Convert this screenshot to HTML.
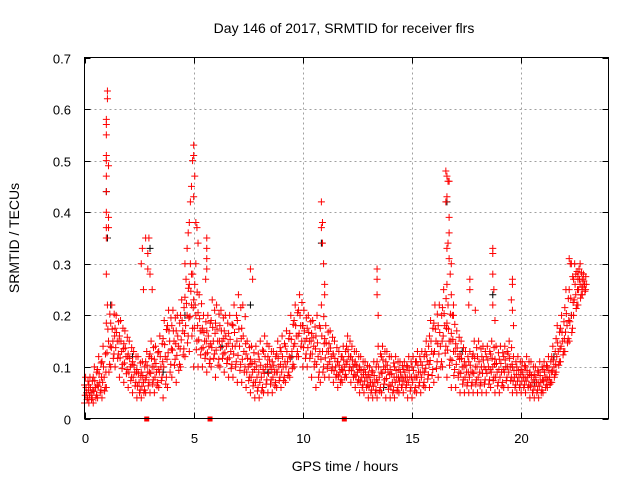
<!DOCTYPE html>
<html><head><meta charset="utf-8"><style>
body{margin:0;background:#fff}
svg{display:block;font-family:"Liberation Sans",sans-serif}
</style></head><body>
<svg id="chart" width="640" height="480" viewBox="0 0 640 480">
<rect width="640" height="480" fill="#fff"/>
<g id="grid"></g>
<g id="points"></g>
<rect x="84.5" y="57.5" width="524" height="361" fill="none" stroke="#000" stroke-width="1"/>
<g id="ticks"></g>
<text x="344" y="33" font-size="14" text-anchor="middle">Day 146 of 2017, SRMTID for receiver flrs</text>
<text x="345" y="471" font-size="14" text-anchor="middle">GPS time / hours</text>
<text transform="translate(19,238) rotate(-90)" font-size="14" text-anchor="middle">SRMTID / TECUs</text>
</svg>
<script>
const xTicks=[0,5,10,15,20];
const yTicks=[0,0.1,0.2,0.3,0.4,0.5,0.6,0.7];
const yTickLabels=["0","0.1","0.2","0.3","0.4","0.5","0.6","0.7"];
const t0=0, dt=0.2;
const lo=[.03,.03,.03,.04,.04,.06,.1,.1,.08,.07,.06,.05,.04,.04,.05,.05,.05,.06,.04,.06,.08,.07,.1,.12,.13,.1,.1,.1,.09,.1,.08,.1,.09,.08,.08,.07,.07,.06,.05,.04,.04,.05,.05,.05,.06,.06,.07,.08,.1,.12,.1,.1,.08,.06,.07,.08,.08,.07,.06,.07,.08,.07,.06,.05,.05,.04,.04,.04,.05,.04,.04,.04,.05,.05,.04,.04,.05,.05,.06,.06,.07,.08,.1,.08,.06,.06,.05,.05,.05,.05,.05,.05,.05,.06,.05,.05,.06,.06,.05,.05,.05,.05,.04,.04,.04,.05,.06,.07,.09,.11,.13,.15,.2,.22,.24];
const mid=[.05,.05,.06,.07,.08,.15,.15,.15,.13,.12,.1,.09,.07,.07,.09,.1,.09,.1,.12,.15,.15,.14,.17,.2,.22,.2,.17,.15,.14,.15,.15,.15,.14,.13,.14,.14,.13,.1,.09,.08,.08,.1,.1,.09,.1,.1,.11,.13,.16,.18,.15,.15,.14,.12,.13,.13,.12,.1,.09,.1,.12,.1,.09,.08,.08,.07,.07,.08,.1,.09,.07,.08,.08,.08,.08,.08,.09,.09,.11,.13,.15,.14,.18,.15,.13,.12,.1,.09,.09,.1,.09,.1,.1,.1,.09,.09,.1,.1,.08,.08,.08,.08,.07,.07,.07,.08,.08,.1,.13,.15,.18,.2,.24,.26,.26];
const hi=[.08,.08,.1,.12,.14,.22,.22,.2,.19,.17,.15,.13,.12,.11,.13,.15,.14,.16,.19,.21,.21,.2,.23,.27,.3,.26,.24,.2,.2,.23,.22,.21,.2,.2,.22,.24,.22,.15,.14,.14,.15,.16,.14,.13,.15,.16,.17,.2,.22,.24,.21,.2,.19,.2,.22,.18,.17,.15,.13,.14,.16,.14,.13,.12,.11,.1,.11,.14,.14,.13,.12,.12,.11,.11,.12,.12,.13,.13,.15,.19,.22,.22,.25,.22,.2,.17,.15,.13,.13,.15,.15,.14,.14,.15,.14,.14,.14,.15,.12,.12,.11,.12,.11,.1,.11,.11,.12,.14,.18,.2,.25,.3,.3,.29,.28];
const spikeT=[1,1,1,1,1,1,1,1,1,1,1,1.05,1.05,1.1,1.1,1.1,2.6,2.65,2.8,2.9,2.95,2.9,3,2.7,3.1,4.6,4.7,4.75,4.8,4.85,4.9,4.95,5,5,5.05,5,5.1,5.15,5.2,5.1,4.9,5.6,5.6,5.6,5.6,5.55,7.6,7.7,10.85,10.9,10.85,10.9,10.95,11,11,13.4,13.4,13.4,13.45,16.55,16.6,16.65,16.7,16.6,16.55,16.7,16.7,16.65,16.6,16.7,16.8,16.75,16.6,16.8,16.9,16.9,17.65,17.65,17.9,17.6,18.7,18.7,18.7,18.75,18.7,18.8,19.6,19.6,19.55,19.6,19.65,22.2,22.3,22.5,22.6,22.7];
const spikeV=[.28,.35,.37,.4,.44,.47,.5,.51,.55,.57,.58,.62,.635,.39,.49,.37,.3,.33,.35,.32,.35,.29,.28,.25,.25,.3,.33,.36,.38,.42,.45,.5,.51,.53,.47,.43,.38,.37,.34,.3,.28,.35,.33,.31,.29,.27,.29,.27,.42,.38,.37,.34,.3,.26,.24,.29,.27,.24,.2,.48,.47,.46,.46,.43,.42,.39,.36,.34,.33,.31,.3,.28,.26,.24,.22,.2,.27,.25,.21,.22,.33,.32,.28,.25,.22,.19,.27,.26,.23,.21,.18,.31,.3,.28,.27,.3];
const blackT=[0.3,1.0,1.05,1.2,2.2,3.0,3.6,4.6,6.3,7.6,8.4,9.5,10.85,12.3,13.7,14.5,16.6,17.3,18.7,19.3,20.6,21.5,22.3];
const blackV=[.05,.44,.35,.22,.12,.33,.09,.2,.14,.22,.09,.12,.34,.1,.06,.08,.42,.13,.24,.1,.07,.12,.2];
const sqT=[2.85,5.75,11.9];

const X0=84.5,X1=608.5,Y0=418.5,Y1=57.5;
const xs=v=>X0+(v-0)/(24-0)*(X1-X0);
const ys=v=>Y0-(v/0.7)*(Y0-Y1);
const NS="http://www.w3.org/2000/svg";
const grid=document.getElementById('grid'),ticks=document.getElementById('ticks'),pts=document.getElementById('points');
function mk(tag,at,parent){const e=document.createElementNS(NS,tag);for(const k in at)e.setAttribute(k,at[k]);parent.appendChild(e);return e;}
xTicks.forEach((v,i)=>{const x=Math.round(xs(v))+0.5;
 if(i>0){const g=mk('line',{x1:x,x2:x,y1:Y1,y2:Y0,stroke:'#a0a0a0','stroke-dasharray':'2,3'},grid);
 
 }
 const a=mk('path',{d:`M${x} ${Y0}v-6M${x} ${Y1}v6`,stroke:'#000'},ticks);
 
 
 const t=mk('text',{x:x,y:443,'font-size':13,'text-anchor':'middle'},ticks);t.textContent=String(v);
 
 
});
yTicks.forEach((v,i)=>{const y=Math.round(ys(v))+0.5;
 if(i>0&&i<yTicks.length-1){const g=mk('line',{x1:X0,x2:X1,y1:y,y2:y,stroke:'#a0a0a0','stroke-dasharray':'2,3'},grid);
 
 }
 const a=mk('path',{d:`M${X0} ${y}h6M${X1} ${y}h-6`,stroke:'#000'},ticks);
 
 
 const t=mk('text',{x:71,y:y+5,'font-size':13,'text-anchor':'end'},ticks);t.textContent=yTickLabels[i];
 
 
});
function cross(t,v,col,name){const x=xs(t),y=ys(v);
 const p=mk('path',{d:`M${x-3.5} ${y}h7M${x} ${y-3.5}v7`,stroke:col,'stroke-width':1,fill:'none'},pts);
 
 }
blackT.forEach((t,i)=>cross(t,blackV[i],'#000','black-point'));
lo.forEach((v,i)=>{const t=t0+i*dt;
 cross(t,v,'#f00','red-point');
 cross(t+0.1,mid[i],'#f00','red-point');
 cross(t+0.05,hi[i],'#f00','red-point');
 cross(t+0.15,(v+mid[i])/2,'#f00','red-point');
 cross(t,(mid[i]+hi[i])/2,'#f00','red-point');
 cross(t+0.12,(v*2+mid[i])/3,'#f00','red-point');
 cross(t+0.07,(mid[i]*2+hi[i])/3,'#f00','red-point');
 cross(t+0.18,(v+hi[i])/2,'#f00','red-point');
 cross(t+0.03,(v+mid[i]*3)/4,'#f00','red-point');
 cross(t+0.16,(mid[i]+hi[i]*3)/4,'#f00','red-point');
});
spikeT.forEach((t,i)=>cross(t,spikeV[i],'#f00','spike-point'));
sqT.forEach(t=>{const r=mk('rect',{x:xs(t)-2.5,y:Y0-2,width:5,height:5,fill:'#f00'},pts);
 
 });
</script>
</body></html>
